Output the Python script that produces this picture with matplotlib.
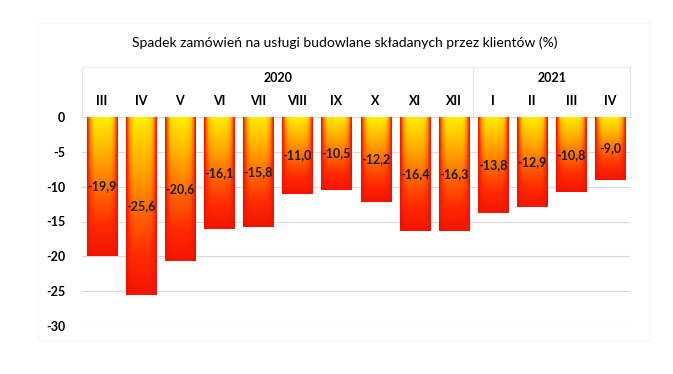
import matplotlib
matplotlib.use("Agg")
import matplotlib.pyplot as plt
import numpy as np
from matplotlib.colors import LinearSegmentedColormap

months = ["III", "IV", "V", "VI", "VII", "VIII", "IX", "X", "XI", "XII", "I", "II", "III", "IV"]
years = ["2020", "2021"]
year_spans = [(0, 9), (10, 13)]
values = [-19.9, -25.6, -20.6, -16.1, -15.8, -11.0, -10.5, -12.2, -16.4, -16.3, -13.8, -12.9, -10.8, -9.0]

plt.rcParams["font.family"] = ["Lato", "DejaVu Sans"]

fig = plt.figure(figsize=(6.73, 3.74), dpi=100)
ax = fig.add_axes([82 / 673, 1 - 326 / 374, 548 / 673, 209 / 374])

x = np.arange(len(values))
bars = ax.bar(x, values, width=0.77, color="none", edgecolor="none", zorder=2)

# yellow top/centre -> red edges/bottom, like the Excel path gradient
cmap = LinearSegmentedColormap.from_list("fire", ["#ffee00", "#ffb000", "#ff6a00", "#ff2a00", "#f01000"])
u = np.abs(np.linspace(-1, 1, 60))[None, :]
v = np.linspace(0, 1, 100)[:, None]
grad = 1 - (1 - u ** 5) * (1 - v * 0.95)

for b, val in zip(bars, values):
    x0 = b.get_x()
    w = b.get_width()
    im = ax.imshow(grad, cmap=cmap, vmin=0, vmax=1, aspect="auto",
                   extent=(x0, x0 + w, val, 0), zorder=2, interpolation="bilinear")
    im.set_clip_path(b)
    ax.text(b.get_x() + w / 2, val / 2, f"{val:.1f}".replace(".", ","),
            ha="center", va="center", fontsize=9, fontweight="bold", color="#1a1a1a", zorder=3)

ax.set_xlim(-0.5, len(values) - 0.5)
ax.set_ylim(-30, 0)
ax.set_yticks(np.arange(-30, 1, 5))
ax.set_yticklabels([str(t) for t in range(-30, 1, 5)], fontsize=9, fontweight="bold")
ax.yaxis.grid(True, color="#d9d9d9", linewidth=0.8, zorder=0)
ax.set_axisbelow(True)
ax.tick_params(axis="y", length=0, pad=12)

ax.xaxis.tick_top()
ax.set_xticks(x)
ax.set_xticklabels(months, fontsize=9, fontweight="bold")
ax.tick_params(axis="x", length=0, pad=7)

for s in ax.spines.values():
    s.set_visible(False)

# header box with year groups
tr = ax.get_xaxis_transform()
ytop = 1 + 50 / 209
ax.plot([-0.5, len(values) - 0.5], [ytop, ytop], transform=tr, color="#ebebeb", lw=0.8, clip_on=False)
for xs in [-0.5, 9.5, len(values) - 0.5]:
    ax.plot([xs, xs], [1, ytop], transform=tr, color="#e3e3e3", lw=0.8, clip_on=False)
for yr, (a, b) in zip(years, year_spans):
    ax.text((a + b) / 2, 1 + 39 / 209, yr, transform=tr, ha="center", va="center",
            fontsize=9, fontweight="bold")

# faint outer chart frame
fig.patches.append(plt.Rectangle((38 / 673, 1 - 340 / 374), 612 / 673, 317 / 374,
                                 transform=fig.transFigure, fill=False, ec="#f5f5f5", lw=0.8))

fig.text(345 / 673, 1 - 43 / 374, "Spadek zamówień na usługi budowlane składanych przez klientów (%)",
         ha="center", va="center", fontsize=10)

fig.savefig("out.png", dpi=100)
